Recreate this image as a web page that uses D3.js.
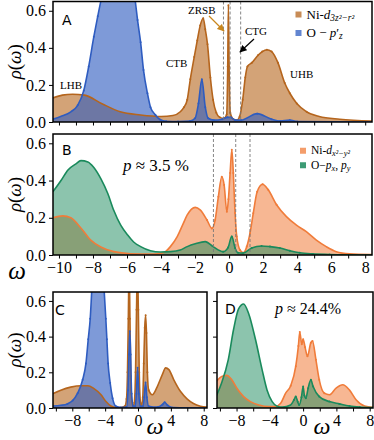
<!DOCTYPE html>
<html>
<head>
<meta charset="utf-8">
<script src="https://cdn.jsdelivr.net/npm/d3@7"></script>
<style>
  body { margin: 0; background: #fff; }
  svg { display: block; font-family: "Liberation Serif", "DejaVu Serif", serif; }
</style>
</head>
<body>
<div id="chart"></div>
<script>
// ---- data: [omega, rho] ----
const aNi = [[-10.35,0.13],[-9.8,0.145],[-9.2,0.15],[-8.5,0.145],[-7.5,0.1],[-6.4,0.055],[-5.2,0.038],[-4.0,0.03],[-3.3,0.035],[-2.87,0.055],[-2.65,0.08],[-2.46,0.12],[-2.28,0.23],[-2.05,0.35],[-1.87,0.44],[-1.7,0.52],[-1.52,0.56],[-1.4,0.5],[-1.27,0.42],[-1.1,0.24],[-0.94,0.12],[-0.75,0.05],[-0.55,0.025],[-0.3,0.02],[-0.14,0.04],[-0.08,0.3],[-0.04,0.63],[0.0,0.3],[0.07,0.05],[0.25,0.015],[0.45,0.01],[0.62,0.03],[0.8,0.12],[0.95,0.24],[1.08,0.3],[1.34,0.32],[1.7,0.36],[1.95,0.38],[2.22,0.39],[2.5,0.38],[2.87,0.32],[3.27,0.21],[3.57,0.155],[3.98,0.1],[4.56,0.055],[5.3,0.03],[6.5,0.015],[8.4,0.005]];
const aO = [[-10.35,0.015],[-9.9,0.03],[-9.3,0.055],[-8.9,0.09],[-8.54,0.17],[-8.25,0.3],[-7.95,0.46],[-7.72,0.57],[-7.25,0.78],[-6.8,0.98],[-6.37,1.05],[-5.96,0.98],[-5.6,0.72],[-5.38,0.55],[-5.2,0.43],[-5.03,0.28],[-4.8,0.155],[-4.62,0.08],[-4.33,0.038],[-4.04,0.012],[-3.7,0.004],[-3.0,0.003],[-2.3,0.005],[-2.0,0.02],[-1.8,0.1],[-1.6,0.23],[-1.4,0.08],[-1.23,0.02],[-0.9,0.01],[-0.4,0.015],[-0.1,0.025],[0.1,0.025],[0.35,0.01],[0.7,0.01],[1.65,0.045],[2.5,0.015],[3.0,0.005],[3.57,0.01],[4.0,0.003],[8.4,0]];

const bNi = [[-10.35,0.2],[-9.77,0.21],[-9.3,0.2],[-8.71,0.145],[-8.13,0.08],[-7.54,0.043],[-6.78,0.018],[-5.79,0.007],[-4.62,0.005],[-4.04,0.008],[-3.74,0.018],[-3.45,0.045],[-3.04,0.1],[-2.69,0.17],[-2.46,0.215],[-1.99,0.256],[-1.7,0.242],[-1.3,0.188],[-1.01,0.143],[-0.82,0.188],[-0.63,0.313],[-0.43,0.42],[-0.29,0.376],[-0.13,0.233],[-0.04,0.3],[0.06,0.44],[0.16,0.565],[0.25,0.44],[0.35,0.226],[0.45,0.1],[0.64,0.027],[0.84,0.012],[1.04,0.045],[1.23,0.117],[1.42,0.224],[1.65,0.34],[1.97,0.38],[2.3,0.35],[2.79,0.27],[3.37,0.206],[3.96,0.16],[4.54,0.125],[5.13,0.08],[5.71,0.045],[6.3,0.018],[7.08,0.006],[8.4,0.002]];
const bO = [[-10.35,0.34],[-9.88,0.4],[-9.47,0.457],[-9.0,0.49],[-8.71,0.507],[-8.3,0.5],[-7.95,0.47],[-7.54,0.41],[-7.13,0.33],[-6.78,0.24],[-6.37,0.16],[-5.96,0.107],[-5.61,0.07],[-5.2,0.045],[-4.62,0.023],[-4.04,0.016],[-3.45,0.018],[-2.87,0.027],[-2.46,0.045],[-1.99,0.06],[-1.4,0.072],[-0.94,0.045],[-0.35,0.018],[-0.06,0.04],[0.16,0.1],[0.35,0.038],[0.53,0.012],[0.82,0.01],[1.33,0.038],[1.91,0.048],[2.4,0.045],[2.98,0.038],[3.57,0.023],[4.15,0.012],[4.91,0.006],[5.9,0.003],[8.4,0]];

const cNi = [[-10.4,0.08],[-9.4,0.1],[-8.2,0.117],[-6.9,0.125],[-6.1,0.125],[-5.4,0.11],[-4.5,0.074],[-3.9,0.036],[-3.3,0.011],[-2.7,0.003],[-2.1,0.003],[-1.6,0.01],[-1.4,0.05],[-1.28,0.2],[-1.18,0.5],[-1.08,0.8],[-0.98,0.5],[-0.88,0.18],[-0.75,0.04],[-0.6,0.008],[-0.45,0.03],[-0.3,0.2],[-0.18,0.55],[-0.07,0.8],[0.04,0.55],[0.15,0.2],[0.3,0.03],[0.42,0.01],[0.58,0.06],[0.7,0.25],[0.82,0.45],[0.93,0.52],[1.03,0.42],[1.14,0.2],[1.3,0.1],[1.75,0.074],[2.35,0.12],[2.96,0.187],[3.36,0.225],[3.76,0.215],[4.36,0.158],[5.18,0.092],[6.0,0.05],[6.75,0.025],[7.6,0.01],[8.4,0.005]];
const cO = [[-10.4,0.011],[-9.4,0.015],[-8.6,0.023],[-7.95,0.042],[-7.35,0.083],[-6.74,0.158],[-6.34,0.25],[-6.06,0.385],[-5.82,0.5],[-5.6,0.68],[-5.25,0.88],[-4.9,0.95],[-4.55,0.88],[-4.15,0.68],[-3.92,0.5],[-3.79,0.385],[-3.64,0.25],[-3.39,0.14],[-3.1,0.055],[-2.7,0.01],[-2.1,0.003],[-1.4,0.005],[-1.22,0.1],[-1.1,0.3],[-1.0,0.43],[-0.9,0.3],[-0.78,0.08],[-0.6,0.01],[-0.35,0.01],[-0.2,0.08],[-0.05,0.225],[0.1,0.08],[0.3,0.01],[0.6,0.01],[0.75,0.06],[0.92,0.143],[1.08,0.06],[1.3,0.01],[2.4,0.005],[3.0,0.02],[3.24,0.032],[3.6,0.015],[4.3,0.003],[8.4,0]];

const dNi = [[-10.4,0.15],[-9.78,0.177],[-9.18,0.183],[-8.57,0.158],[-7.96,0.111],[-7.15,0.064],[-6.34,0.036],[-5.33,0.017],[-4.12,0.008],[-3.31,0.008],[-2.7,0.026],[-2.1,0.083],[-1.49,0.125],[-0.88,0.234],[-0.57,0.347],[-0.4,0.426],[-0.16,0.357],[0.0,0.385],[0.24,0.34],[0.52,0.29],[0.93,0.366],[1.13,0.375],[1.54,0.27],[1.94,0.158],[2.55,0.083],[3.15,0.074],[3.96,0.111],[4.76,0.13],[5.58,0.1],[6.39,0.045],[7.39,0.011],[8.4,0.004]];
const dO = [[-10.4,0.07],[-9.8,0.14],[-9.0,0.27],[-8.36,0.44],[-7.76,0.555],[-7.15,0.583],[-6.55,0.53],[-5.73,0.385],[-4.93,0.215],[-4.33,0.1],[-3.72,0.036],[-3.12,0.01],[-2.5,0.005],[-1.5,0.017],[-1.1,0.045],[-0.88,0.064],[-0.65,0.035],[-0.48,0.017],[-0.2,0.06],[0.0,0.12],[0.15,0.07],[0.33,0.055],[0.6,0.11],[0.93,0.158],[1.2,0.12],[1.94,0.064],[3.15,0.036],[4.36,0.023],[5.58,0.011],[6.8,0.005],[8.4,0.002]];

const dashA = [-0.33, 0.06, 0.68];
const dashB = [-0.92, 0.39, 1.23];
const yTickVals = [0, 0.2, 0.4, 0.6];
const xTicksFine = d3.range(-10, 9, 1);
const xTicksWide = d3.range(-10, 9, 2);
const xLabelsB = [-10, -8, -6, -4, -2, 0, 2, 4, 6, 8];
const xLabelsCD = [-8, -4, 0, 4, 8];

const brown = "#b5651d", blue = "#2e5cc0", orange = "#f07c3a", green = "#1a8a5c";

const W = 374, H = 440;
const svg = d3.select("#chart").append("svg").attr("width", W).attr("height", H);

const defs = svg.append("defs");
function arrowHead(id, col) {
    defs.append("marker").attr("id", id)
        .attr("viewBox", "0 0 10 10").attr("refX", 9).attr("refY", 5)
        .attr("markerWidth", 6).attr("markerHeight", 6).attr("orient", "auto")
        .append("path").attr("d", "M0,0 L10,5 L0,10 z").attr("fill", col);
}
arrowHead("arrOr", "#c8861e");
arrowHead("arrBk", "#000");

let fmt = d3.format(".0f");

function panel(p) {
    const x = d3.scaleLinear().domain([-10.35, 8.4]).range([p.x0, p.x1]);
    const y = d3.scaleLinear().domain([0, 0.65]).range([p.y1, p.y0]);
    const g = svg.append("g");

    defs.append("clipPath").attr("id", "clip" + p.id)
        .append("rect").attr("x", p.x0).attr("y", p.y0)
        .attr("width", p.x1 - p.x0).attr("height", p.y1 - p.y0);
    const plot = g.append("g").attr("clip-path", "url(#clip" + p.id + ")");

    const area = d3.area().x(d => x(d[0])).y0(y(0)).y1(d => y(d[1])).curve(d3.curveMonotoneX);
    const line = d3.line().x(d => x(d[0])).y(d => y(d[1])).curve(d3.curveMonotoneX);

    p.series.forEach(s => {
        plot.append("path").datum(s.data).attr("d", area)
            .attr("fill", s.color).attr("fill-opacity", s.alpha);
    });
    p.series.forEach(s => {
        plot.append("path").datum(s.data).attr("d", line)
            .attr("fill", "none").attr("stroke", s.color).attr("stroke-width", 1.6);
        plot.selectAll(null).data(s.data.filter(d => d[0] > s.dots[0] && d[0] < s.dots[1]))
            .enter().append("circle")
            .attr("cx", d => x(d[0])).attr("cy", d => y(d[1])).attr("r", 1)
            .attr("fill", s.color);
    });

    (p.dash || []).forEach(v => {
        g.append("line").attr("x1", x(v)).attr("x2", x(v)).attr("y1", p.y0).attr("y2", p.y1)
            .attr("stroke", "#777").attr("stroke-width", 0.9).attr("stroke-dasharray", "3,2");
    });

    const xAxis = d3.axisBottom(x).tickValues(p.xTicks).tickSize(3.5).tickPadding(3)
        .tickFormat(d => p.xLabels.includes(d) ? fmt(d) : "");
    const gx = g.append("g").attr("transform", "translate(0," + p.y1 + ")").call(xAxis);
    gx.select(".domain").remove();
    gx.selectAll("text").attr("font-size", 16).attr("font-family", "Liberation Serif").attr("fill", "#000");

    const yAxis = d3.axisLeft(y).tickValues(yTickVals).tickSize(4).tickPadding(3)
        .tickFormat(d => p.yLabels ? d3.format(".1f")(d) : "");
    const gy = g.append("g").attr("transform", "translate(" + p.x0 + ",0)").call(yAxis);
    gy.select(".domain").remove();
    gy.selectAll("text").attr("font-size", 16).attr("font-family", "Liberation Serif").attr("fill", "#000");

    g.append("rect").attr("x", p.x0).attr("y", p.y0)
        .attr("width", p.x1 - p.x0).attr("height", p.y1 - p.y0)
        .attr("fill", "none").attr("stroke", "#000").attr("stroke-width", 1.5);

    g.append("text").attr("x", p.lx).attr("y", p.ly).text(p.id)
        .style("font-family", "'DejaVu Sans', sans-serif").attr("font-size", 14);

    if (p.yLabels) {
        const t = g.append("text")
            .attr("transform", "translate(21," + ((p.y0 + p.y1) / 2) + ") rotate(-90)")
            .attr("text-anchor", "middle").attr("font-size", 19);
        t.append("tspan").attr("font-style", "italic").text("ρ");
        t.append("tspan").text("(");
        t.append("tspan").attr("font-style", "italic").text("ω");
        t.append("tspan").text(")");
    }
    return { x: x, y: y, g: g };
}

const A = panel({ id: "A", x0: 53, x1: 372, y0: 1.5, y1: 122, xTicks: xTicksFine, xLabels: [], yLabels: true, lx: 62, ly: 25,
    dash: dashA,
    series: [{ data: aNi, color: brown, alpha: 0.6, dots: [-2.7, 5] }, { data: aO, color: blue, alpha: 0.62, dots: [-9, 5] }] });
const B = panel({ id: "B", x0: 53, x1: 372, y0: 134, y1: 255, xTicks: xTicksFine, xLabels: xLabelsB, yLabels: true, lx: 62, ly: 155,
    dash: dashB,
    series: [{ data: bNi, color: orange, alpha: 0.55, dots: [-1.5, 3] }, { data: bO, color: green, alpha: 0.5, dots: [-0.5, 7] }] });
const C = panel({ id: "C", x0: 53, x1: 207, y0: 292, y1: 408, xTicks: xTicksWide, xLabels: xLabelsCD, yLabels: true, lx: 55, ly: 315,
    series: [{ data: cNi, color: brown, alpha: 0.6, dots: [-1.7, 1.5] }, { data: cO, color: blue, alpha: 0.62, dots: [-8.7, 4] }] });
const D = panel({ id: "D", x0: 217, x1: 373, y0: 292, y1: 408, xTicks: xTicksWide, xLabels: xLabelsCD, yLabels: false, lx: 225, ly: 314,
    series: [{ data: dNi, color: orange, alpha: 0.55, dots: [-1.6, 3] }, { data: dO, color: green, alpha: 0.5, dots: [-1.3, 7.5] }] });

// omega axis labels
function omega(xp, yp, size) {
    svg.append("text").attr("x", xp).attr("y", yp).attr("text-anchor", "middle")
        .attr("font-size", size).attr("font-style", "italic").text("ω");
}
omega(17, 279, 25);
omega(155, 434, 24);
omega(322, 434, 24);

// band annotations in A
function note(txt, xp, yp) {
    svg.append("text").attr("x", xp).attr("y", yp).attr("font-size", 11).text(txt);
}
note("LHB", 60, 89);
note("CTB", 166, 67);
note("ZRSB", 188, 14);
note("CTG", 245, 35);
note("UHB", 290, 78);
svg.append("line").attr("x1", 209).attr("y1", 16).attr("x2", 224).attr("y2", 31)
    .attr("stroke", "#c8861e").attr("stroke-width", 1.2).attr("marker-end", "url(#arrOr)");
svg.append("line").attr("x1", 254).attr("y1", 39).attr("x2", 240).attr("y2", 52)
    .attr("stroke", "#000").attr("stroke-width", 1.2).attr("marker-end", "url(#arrBk)");

// legends
function legendRow(xp, yp, col, alpha, size, parts) {
    svg.append("rect").attr("x", xp).attr("y", yp - size * 0.5 - 0.5).attr("width", 6).attr("height", 6)
        .attr("fill", col).attr("fill-opacity", alpha);
    const t = svg.append("text").attr("x", xp + 11).attr("y", yp).attr("font-size", size);
    parts.forEach(pt => {
        const s = t.append("tspan").text(pt.t);
        if (pt.i) s.attr("font-style", "italic");
        if (pt.sub) s.attr("font-size", size * 0.72).attr("baseline-shift", "-20%");
    });
}
legendRow(295.5, 18.5, brown, 0.75, 13, [{ t: "Ni-" }, { t: "d", i: 1 }, { t: "3z²−r²", i: 1, sub: 1 }]);
legendRow(295.5, 37, blue, 0.75, 13, [{ t: "O − " }, { t: "p", i: 1 }, { t: "′" }, { t: "z", i: 1, sub: 1 }]);
legendRow(300, 154, orange, 0.75, 11.5, [{ t: "Ni-" }, { t: "d", i: 1 }, { t: "x²−y²", i: 1, sub: 1 }]);
legendRow(300, 168.5, green, 0.85, 11.5, [{ t: "O−" }, { t: "p", i: 1 }, { t: "x", i: 1, sub: 1 }, { t: ", " }, { t: "p", i: 1 }, { t: "y", i: 1, sub: 1 }]);

// doping labels
function pLabel(xp, yp, val, size) {
    const t = svg.append("text").attr("x", xp).attr("y", yp).attr("font-size", size);
    t.append("tspan").attr("font-style", "italic").text("p");
    t.append("tspan").text(" ≈ " + val);
}
pLabel(123, 171, "3.5 %", 17);
pLabel(275, 314, "24.4%", 16);
</script>
</body>
</html>
